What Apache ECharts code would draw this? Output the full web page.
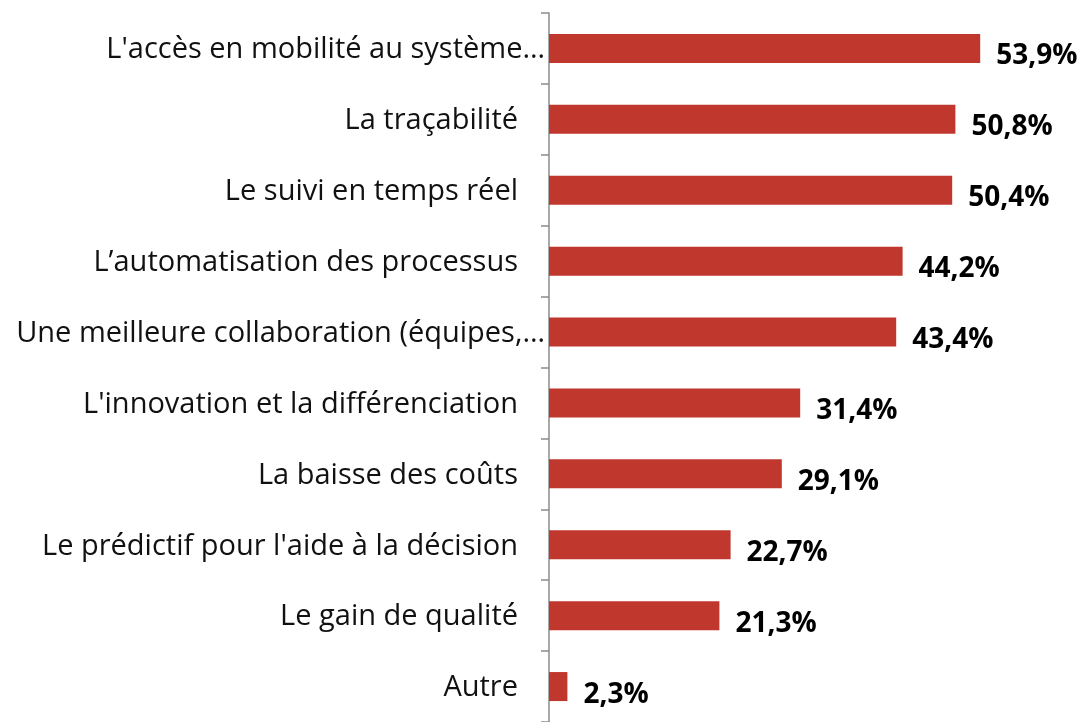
<!DOCTYPE html>
<html><head><meta charset="utf-8">
<script src="https://cdn.jsdelivr.net/npm/echarts@6/dist/echarts.min.js"></script>
<style>html,body{margin:0;padding:0;background:#fff}#c{width:1082px;height:722px}</style>
</head><body><div id="c"></div>
<script>
const categories = [
  "L'accès en mobilité au système…",
  "La traçabilité",
  "Le suivi en temps réel",
  "L’automatisation des processus",
  "Une meilleure collaboration (équipes,…",
  "L'innovation et la différenciation",
  "La baisse des coûts",
  "Le prédictif pour l'aide à la décision",
  "Le gain de qualité",
  "Autre"
];
const values = [53.9, 50.8, 50.4, 44.2, 43.4, 31.4, 29.1, 22.7, 21.3, 2.3];

const chart = echarts.init(document.getElementById('c'));
chart.setOption({
  animation: false,
  grid: { left: 549, top: 13, width: 480, height: 712, containLabel: false },
  xAxis: { type: 'value', min: 0, max: 60, show: false },
  yAxis: {
    type: 'category', inverse: true, data: categories,
    axisLine: { show: true, lineStyle: { color: '#8c8c8c', width: 1.5 } },
    axisTick: { show: true, inside: false, length: 8, lineStyle: { color: '#8c8c8c', width: 1.5 } },
    axisLabel: {
      margin: 4,
      formatter: v => v.endsWith('…') ? '{b|' + v + '}' : '{a|' + v + '}',
      rich: {
        a: { fontFamily: 'Open Sans', fontSize: 29, color: '#111', padding: [3, 27, 0, 0] },
        b: { fontFamily: 'Open Sans', fontSize: 29, color: '#111', padding: [3, 0, 0, 0] }
      }
    }
  },
  series: [{
    type: 'bar', data: values, barWidth: 29,
    itemStyle: { color: '#C0372D' },
    label: {
      show: true, position: 'right', distance: 16, offset: [0, 8],
      formatter: p => p.value.toFixed(1).replace('.', ',') + '%',
      fontFamily: 'Open Sans', fontWeight: 'bold', fontSize: 28, color: '#000'
    }
  }]
});
</script></body></html>
